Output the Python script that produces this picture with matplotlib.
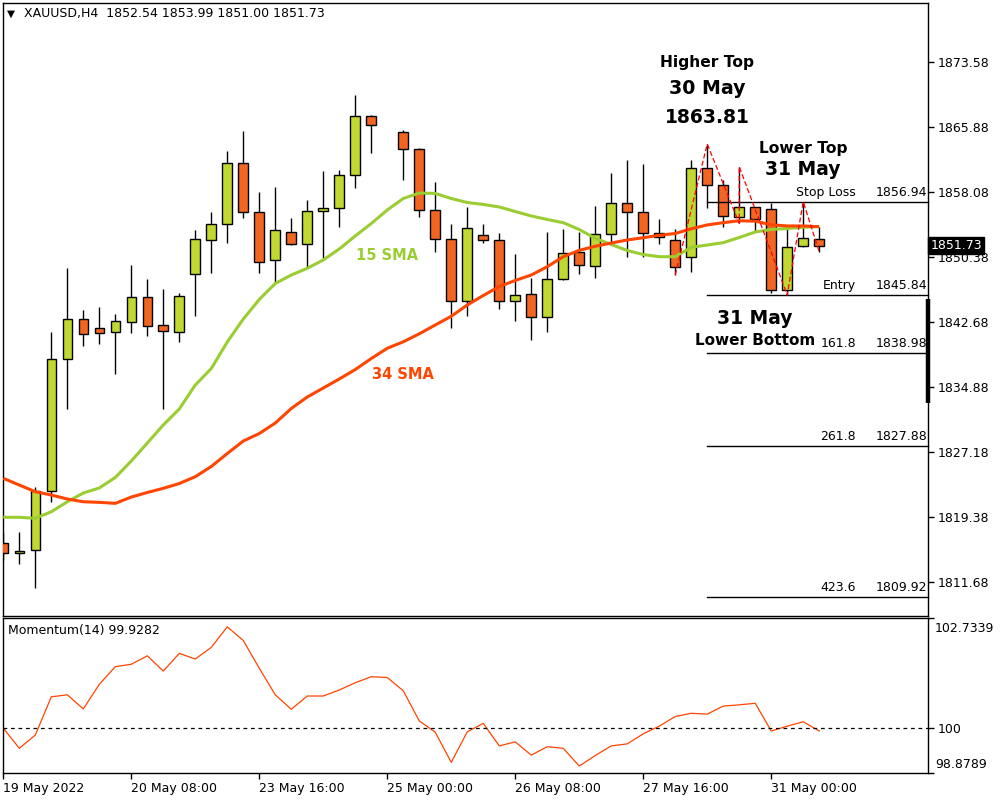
import numpy as np
import matplotlib.pyplot as plt
from matplotlib.patches import Rectangle
from matplotlib.transforms import blended_transform_factory

# XAUUSD H4 bars from 19 May 2022 00:00, one entry per bar (bar 24 is not drawn on the source chart)
nan = np.nan
opens = [1816.28, 1815.09, 1815.48, 1822.51, 1838.19, 1842.95, 1841.88, 1841.40, 1842.59, 1845.57,
         1842.23, 1841.40, 1848.31, 1852.35, 1854.26, 1861.52, 1855.69, 1849.97, 1853.31, 1851.88,
         1855.84, 1856.16, 1860.09, 1867.15, nan, 1865.21, 1863.19, 1855.96, 1852.47, 1845.09,
         1852.95, 1852.35, 1845.16, 1845.93, 1843.28, 1847.71, 1850.93, 1849.29, 1853.07, 1856.76,
         1855.69, 1853.19, 1852.39, 1850.33, 1860.93, 1858.94, 1855.16, 1856.28, 1856.04, 1846.44,
         1851.68, 1852.54]
highs = [1817.47, 1817.59, 1823.02, 1841.47, 1849.02, 1844.06, 1844.38, 1843.58, 1849.41, 1847.75,
         1846.56, 1846.12, 1853.58, 1855.69, 1862.98, 1865.37, 1858.07, 1858.66, 1854.97, 1857.15,
         1860.60, 1860.72, 1869.65, 1867.25, nan, 1865.48, 1863.31, 1859.33, 1854.29, 1856.28,
         1854.29, 1853.19, 1850.72, 1847.83, 1853.34, 1853.66, 1853.38, 1856.44, 1860.40, 1861.91,
         1861.40, 1854.85, 1853.73, 1861.91, 1863.81, 1859.53, 1861.12, 1856.35, 1856.76, 1853.78,
         1856.94, 1853.99]
lows = [1814.29, 1813.78, 1810.93, 1821.23, 1832.31, 1839.81, 1840.01, 1836.44, 1841.28, 1841.00,
        1832.31, 1840.28, 1843.38, 1848.50, 1852.00, 1854.97, 1848.50, 1847.31, 1851.80, 1849.21,
        1850.28, 1853.97, 1858.62, 1862.71, nan, 1859.53, 1855.09, 1851.00, 1841.95, 1843.38,
        1852.07, 1844.18, 1842.78, 1840.48, 1841.38, 1847.65, 1848.31, 1847.83, 1852.00, 1850.40,
        1850.40, 1851.91, 1848.22, 1848.62, 1856.16, 1853.90, 1854.38, 1853.46, 1846.04, 1845.84,
        1851.55, 1851.00]
closes = [1815.09, 1815.33, 1822.51, 1838.19, 1842.95, 1841.16, 1841.28, 1842.75, 1845.57, 1842.12,
          1841.52, 1845.69, 1852.47, 1854.26, 1861.52, 1855.69, 1849.81, 1853.54, 1851.88, 1855.81,
          1856.16, 1860.09, 1867.15, 1866.04, nan, 1863.19, 1855.96, 1852.47, 1845.09, 1853.78,
          1852.39, 1845.09, 1845.81, 1843.19, 1847.71, 1850.81, 1849.38, 1853.07, 1856.76, 1855.69,
          1853.19, 1852.78, 1849.21, 1860.93, 1858.94, 1855.25, 1856.28, 1854.85, 1846.44, 1851.52,
          1852.59, 1851.73]

sma15 = [1819.38, 1819.38, 1819.26, 1820.04, 1821.23, 1822.27, 1822.87, 1824.12, 1826.08, 1828.22,
         1830.37, 1832.27, 1835.13, 1837.09, 1840.25, 1842.98, 1845.31, 1847.21, 1848.22, 1849.02,
         1850.01, 1851.32, 1852.87, 1854.35, 1855.96, 1857.33, 1857.98, 1857.93, 1857.33, 1856.85,
         1856.62, 1856.32, 1855.78, 1855.25, 1854.83, 1854.45, 1853.64, 1852.59, 1851.85, 1851.14,
         1850.66, 1850.40, 1850.40, 1851.52, 1851.79, 1852.07, 1852.69, 1853.34, 1853.64, 1853.76,
         1853.90, 1854.00]
sma34 = [1824.02, 1823.22, 1822.43, 1822.03, 1821.56, 1821.23, 1821.16, 1821.04, 1821.79, 1822.33,
         1822.83, 1823.40, 1824.21, 1825.43, 1826.97, 1828.46, 1829.35, 1830.60, 1832.33, 1833.70,
         1834.77, 1835.84, 1836.97, 1838.28, 1839.50, 1840.27, 1841.22, 1842.27, 1843.31, 1844.65,
         1845.78, 1846.85, 1847.57, 1848.22, 1849.21, 1850.40, 1851.16, 1851.64, 1852.03, 1852.39,
         1852.66, 1852.95, 1853.16, 1853.72, 1854.18, 1854.45, 1854.68, 1854.63, 1854.20, 1854.06,
         1854.06, 1853.97]
momentum = [100.00, 99.50, 99.83, 100.78, 100.83, 100.48, 101.09, 101.53, 101.59, 101.80,
            101.42, 101.86, 101.72, 102.01, 102.52, 102.18, 101.49, 100.83, 100.47, 100.80,
            100.80, 100.95, 101.13, 101.28, 101.26, 100.93, 100.18, 99.90, 99.15, 99.91,
            100.12, 99.56, 99.66, 99.33, 99.54, 99.50, 99.06, 99.32, 99.56, 99.61,
            99.86, 100.05, 100.29, 100.37, 100.35, 100.55, 100.58, 100.62, 99.93, 100.05,
            100.16, 99.93]

# zigzag through the swing points
zz_bar = [42, 44, 46, 46, 49, 50, 51]
zz_val = [1848.22, 1863.81, 1854.38, 1861.12, 1845.84, 1856.94, 1851.00]

# trade levels drawn from bar 44 to the right edge
level_vals = [1856.94, 1845.84, 1838.98, 1827.88, 1809.92]
level_names = ["Stop Loss", "Entry", "161.8", "261.8", "423.6"]
level_start = 44

price_ticks = [1873.58, 1865.88, 1858.08, 1850.38, 1842.68, 1834.88, 1827.18, 1819.38, 1811.68]
mom_min, mom_max = 98.8789, 102.7339
time_ticks = [0, 8, 16, 24, 32, 40, 48]
time_labels = ["19 May 2022", "20 May 08:00", "23 May 16:00", "25 May 00:00",
               "26 May 08:00", "27 May 16:00", "31 May 00:00"]

UP = "#C0D831"
DOWN = "#F26522"
SMA15_C = "#9ACD32"
SMA34_C = "#FF4500"

plt.rcParams["font.family"] = ["DejaVu Sans"]
plt.rcParams["font.size"] = 9

fig = plt.figure(figsize=(10, 8), dpi=100)
ax = fig.add_axes([0.003, 0.23, 0.925, 0.76625])
axm = fig.add_axes([0.003, 0.0334, 0.925, 0.1938])

xmin, xmax = -0.02, 57.8
bars = np.arange(len(closes))

# candles
for i in bars:
    o, h, l, c = opens[i], highs[i], lows[i], closes[i]
    if np.isnan(o):
        continue
    ax.vlines(i, l, h, color="black", lw=1.0, zorder=2)
    col = UP if c >= o else DOWN
    ax.add_patch(Rectangle((i - 0.3, min(o, c)), 0.6, max(abs(c - o), 0.12),
                           facecolor=col, edgecolor="black", lw=1.0, zorder=3))

ax.plot(bars, sma15, color=SMA15_C, lw=2.2, zorder=4, solid_capstyle="butt")
ax.plot(bars, sma34, color=SMA34_C, lw=2.2, zorder=4, solid_capstyle="butt")
ax.plot(zz_bar, zz_val, color="red", lw=0.9, ls=(0, (4, 2)), zorder=5)

# trade levels
tr = blended_transform_factory(ax.transAxes, ax.transData)
for v, name in zip(level_vals, level_names):
    ax.plot([level_start, xmax], [v, v], color="black", lw=1.0, zorder=3, clip_on=False)
    ax.text(53.3, v + 0.35, name, ha="right", va="bottom", fontsize=9, zorder=6)
    ax.text(0.999, v + 0.35, f"{v:.2f}", transform=tr, ha="right", va="bottom", fontsize=9, zorder=6)

# annotations
ax.text(44.0, 1873.55, "Higher Top", ha="center", va="center", fontsize=11.2, fontweight="bold")
ax.text(44.0, 1870.45, "30 May", ha="center", va="center", fontsize=13.7, fontweight="bold")
ax.text(44.0, 1866.95, "1863.81", ha="center", va="center", fontsize=13.5, fontweight="bold")
ax.text(50.0, 1863.30, "Lower Top", ha="center", va="center", fontsize=11.2, fontweight="bold")
ax.text(50.0, 1860.75, "31 May", ha="center", va="center", fontsize=13.5, fontweight="bold")
ax.text(47.0, 1843.10, "31 May", ha="center", va="center", fontsize=13.5, fontweight="bold")
ax.text(47.0, 1840.45, "Lower Bottom", ha="center", va="center", fontsize=11.0, fontweight="bold")
ax.text(24.0, 1850.55, "15 SMA", ha="center", va="center", fontsize=10.5, fontweight="bold", color=SMA15_C)
ax.text(25.0, 1836.35, "34 SMA", ha="center", va="center", fontsize=10.5, fontweight="bold", color=SMA34_C)

# bar on the price scale and last-price box
ax.plot([xmax, xmax], [1845.37, 1833.02], color="black", lw=3.2, clip_on=False, zorder=6,
        solid_capstyle="butt")
ax.text(1.0025, closes[-1], f"{closes[-1]:.2f}", transform=tr, ha="left", va="center",
        color="white", fontsize=9, zorder=7,
        bbox=dict(boxstyle="square,pad=0.18", fc="black", ec="black"))

ax.set_xlim(xmin, xmax)
ax.set_ylim(1807.63, 1880.60)
ax.set_yticks(price_ticks)
ax.set_yticklabels([f"{t:.2f}" for t in price_ticks])
ax.tick_params(axis="y", left=False, labelleft=False, right=True, labelright=True,
               direction="out", length=4, width=1, pad=3, labelsize=9)
ax.tick_params(axis="x", bottom=False, labelbottom=False)
for s in ax.spines.values():
    s.set_linewidth(1.0)

# momentum panel
axm.plot(bars, momentum, color=SMA34_C, lw=0.9)
axm.axhline(100, color="black", lw=0.9, ls=(0, (3, 3)))
axm.set_xlim(xmin, xmax)
axm.set_ylim(mom_min, mom_max)
axm.set_yticks([mom_min, 100, mom_max])
axm.set_yticklabels(["", "100", ""])
axm.tick_params(axis="y", left=False, labelleft=False, right=True, labelright=True,
                direction="out", length=4, width=1, pad=3, labelsize=9)
trm = blended_transform_factory(axm.transAxes, axm.transData)
axm.annotate(f"{mom_max:.4f}", xy=(1, mom_max), xycoords=trm, xytext=(5, -3),
             textcoords="offset points", ha="left", va="top", fontsize=9, annotation_clip=False)
axm.annotate(f"{mom_min:.4f}", xy=(1, mom_min), xycoords=trm, xytext=(5, 2),
             textcoords="offset points", ha="left", va="bottom", fontsize=9, annotation_clip=False)
axm.set_xticks(time_ticks)
xl = axm.set_xticklabels(time_labels)
for t in xl:
    t.set_ha("left")
axm.tick_params(axis="x", direction="out", length=4, width=1, pad=2, labelsize=9)
for s in axm.spines.values():
    s.set_linewidth(1.0)
axm.text(0.005, 0.92, "Momentum(14) 99.9282", transform=axm.transAxes, ha="left", va="center",
         fontsize=9)

# header line
fig.text(0.007, 1 - 14 / 800, "\u25BC", ha="left", va="center", fontsize=7.5)
fig.text(0.024, 1 - 14 / 800, "XAUUSD,H4  1852.54 1853.99 1851.00 1851.73", ha="left",
         va="center", fontsize=9)

fig.savefig("out.png", dpi=100, facecolor="white")
